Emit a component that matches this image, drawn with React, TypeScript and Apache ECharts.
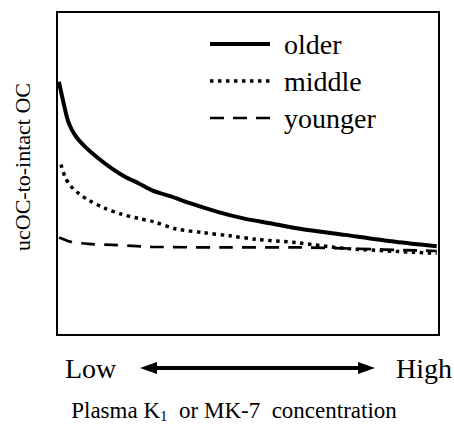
import React, { useEffect, useRef } from "react";
import * as echarts from "echarts";

const FONT = "Liberation Serif";

const seriesNames = ["older", "middle", "younger"];

const olderX = [0.5, 1.65, 2.96, 4.71, 7.33, 10.8, 14.3, 17.8, 21.3, 25.2, 29.6, 34.8, 41.8, 48.8, 55.8, 63.2, 75.4, 88.5, 99.4];
const olderY = [78.4, 72.2, 66.0, 61.9, 58.3, 54.7, 51.6, 49.0, 47.0, 44.6, 43.0, 40.8, 38.2, 36.1, 34.6, 33.0, 31.0, 28.9, 27.5];

const middleX = [1.05, 2.09, 3.4, 5.58, 8.19, 12.6, 16.9, 21.3, 25.2, 31.3, 38.3, 45.3, 52.3, 62.7, 75.4, 99.4];
const middleY = [52.8, 49.0, 46.4, 43.9, 41.8, 39.2, 37.4, 36.1, 35.1, 32.8, 31.7, 30.7, 29.6, 28.6, 26.8, 25.3];

const youngerX = [0.5, 1.2, 3.4, 8.2, 14.3, 19.6, 24.8, 44.0, 63.6, 75.4, 99.4];
const youngerY = [30.1, 29.9, 28.9, 28.2, 27.9, 27.6, 27.3, 27.1, 27.1, 26.8, 26.0];

const xLowLabel = "Low";
const xHighLabel = "High";
const yAxisLabel = "ucOC-to-intact OC";

const zip = (xs: number[], ys: number[]) => xs.map((x, i) => [x, ys[i]]);

export default function App() {
  const ref = useRef<HTMLDivElement>(null);
  useEffect(() => {
    if (!ref.current) return;
    const chart = echarts.init(ref.current, undefined, { renderer: "svg" });
    chart.setOption({
      animation: false,
      backgroundColor: "#fff",
      textStyle: { fontFamily: FONT },
      grid: {
        left: 57,
        top: 12,
        width: 382,
        height: 323,
        show: true,
        borderColor: "#000",
        borderWidth: 2,
        backgroundColor: "transparent",
      },
      xAxis: {
        type: "value",
        min: 0,
        max: 100,
        axisLine: { show: false },
        axisTick: { show: false },
        axisLabel: { show: false },
        splitLine: { show: false },
      },
      yAxis: {
        type: "value",
        min: 0,
        max: 100,
        axisLine: { show: false },
        axisTick: { show: false },
        axisLabel: { show: false },
        splitLine: { show: false },
      },
      legend: {
        orient: "vertical",
        left: 208,
        top: 30,
        itemWidth: 60,
        itemHeight: 20,
        itemGap: 9,
        padding: 0,
        data: seriesNames,
        itemStyle: { opacity: 0, borderWidth: 0 },
        lineStyle: { width: "inherit", type: "inherit" },
        textStyle: {
          fontFamily: FONT,
          fontSize: 28,
          color: "#000",
          lineHeight: 28,
          padding: [0, 0, 0, 9],
        },
      },
      series: [
        {
          name: seriesNames[0],
          type: "line",
          data: zip(olderX, olderY),
          smooth: 0.3,
          symbol: "none",
          lineStyle: { color: "#000", width: 4, type: "solid" },
          itemStyle: { color: "#000" },
        },
        {
          name: seriesNames[1],
          type: "line",
          data: zip(middleX, middleY),
          smooth: 0.3,
          symbol: "none",
          lineStyle: { color: "#000", width: 3.5, type: [3.5, 4.5], cap: "butt" },
          itemStyle: { color: "#000" },
        },
        {
          name: seriesNames[2],
          type: "line",
          data: zip(youngerX, youngerY),
          smooth: 0.3,
          symbol: "none",
          lineStyle: { color: "#000", width: 2.7, type: [14, 9], cap: "butt" },
          itemStyle: { color: "#000" },
        },
      ],
      graphic: [
        {
          type: "text",
          x: 22,
          y: 167,
          rotation: Math.PI / 2,
          style: {
            text: yAxisLabel,
            fontFamily: FONT,
            fontSize: 22,
            fill: "#000",
            align: "center",
            verticalAlign: "middle",
          },
        },
        {
          type: "text",
          x: 65,
          y: 368,
          style: {
            text: xLowLabel,
            fontFamily: FONT,
            fontSize: 28,
            fill: "#000",
            align: "left",
            verticalAlign: "middle",
          },
        },
        {
          type: "text",
          x: 396,
          y: 368,
          style: {
            text: xHighLabel,
            fontFamily: FONT,
            fontSize: 28,
            fill: "#000",
            align: "left",
            verticalAlign: "middle",
          },
        },
        {
          type: "line",
          shape: { x1: 154, y1: 368, x2: 361, y2: 368 },
          style: { stroke: "#000", lineWidth: 4 },
        },
        {
          type: "polygon",
          shape: { points: [[140, 368], [157, 362], [157, 374]] },
          style: { fill: "#000" },
        },
        {
          type: "polygon",
          shape: { points: [[375, 368], [358, 362], [358, 374]] },
          style: { fill: "#000" },
        },
        {
          type: "text",
          x: 234,
          y: 410,
          style: {
            text: "{a|Plasma K}{s|1}{a|  or MK-7  concentration}",
            align: "center",
            verticalAlign: "middle",
            fontFamily: FONT,
            rich: {
              a: { fontFamily: FONT, fontSize: 23, lineHeight: 27, color: "#000" },
              s: { fontFamily: FONT, fontSize: 15, lineHeight: 12, verticalAlign: "bottom", color: "#000" },
            },
          },
        },
      ],
    });
    return () => chart.dispose();
  }, []);
  return (
    <div
      ref={ref}
      style={{ position: "fixed", left: 0, top: 0, width: 454, height: 426 }}
    />
  );
}
